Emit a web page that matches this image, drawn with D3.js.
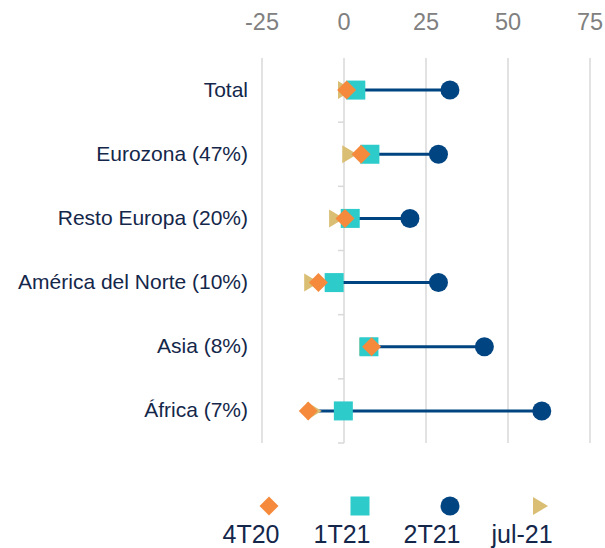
<!DOCTYPE html>
<html>
<head>
<meta charset="utf-8">
<script src="https://cdn.jsdelivr.net/npm/d3@7"></script>
<style>
    body { margin: 0; background: #fff; }
    svg { display: block; font-family: "Liberation Sans", Arial, sans-serif; }
</style>
</head>
<body>
<main></main>
<script>
// Data
const categories = ['Total', 'Eurozona (47%)', 'Resto Europa (20%)', 'América del Norte (10%)', 'Asia (8%)', 'África (7%)']
const series = ['4T20', '1T21', '2T21', 'jul-21']
const v4T20 = [0.8, 5.2, 0.3, -7.8, 8.4, -10.9]
const v1T21 = [3.6, 7.9, 1.9, -3.0, 7.6, -0.2]
const v2T21 = [32.3, 28.8, 20.1, 28.8, 42.8, 60.3]
const vJul21 = [0.3, 1.6, -2.4, -10.0, 6.8, -9.2]
const ticks = [-25, 0, 25, 50, 75]

// Configuration
const total_width = 605
const height = 548
const plot = { left: 262, right: 590, top: 58, bottom: 443 }
const colors = {
    '4T20': '#f68a3c',
    '1T21': '#2ecbcb',
    '2T21': '#004481',
    'jul-21': '#d9be73'
}
const textColor = '#14274a'
const gridColor = '#d9d9d9'

const x = d3.scaleLinear()
    .domain([-25, 75])
    .range([plot.left, plot.right])

const y = d3.scaleBand()
    .domain(categories)
    .range([plot.top, plot.bottom])

const yc = d => y(d) + y.bandwidth() / 2

// Markers
const marker = (selection, name) => {
    const c = colors[name]
    if (name === '4T20') {
        selection.append('path').attr('d', 'M0,-9.5L9.5,0L0,9.5L-9.5,0Z').attr('fill', c)
    } else if (name === '1T21') {
        selection.append('rect').attr('x', -9.5).attr('y', -9.5).attr('width', 19).attr('height', 19).attr('fill', c)
    } else if (name === '2T21') {
        selection.append('circle').attr('r', 9.5).attr('fill', c)
    } else {
        selection.append('path').attr('d', 'M-7,-9L8,0L-7,9Z').attr('fill', c)
    }
}

// DOM
const svg = d3.select('main')
    .append('svg')
    .attr('width', total_width)
    .attr('height', height)

// Grid
svg.append('g')
    .selectAll('line')
    .data(ticks)
    .enter()
    .append('line')
    .attr('x1', x)
    .attr('x2', x)
    .attr('y1', plot.top)
    .attr('y2', plot.bottom)
    .attr('stroke', gridColor)
    .attr('stroke-width', 1.5)

// Top axis labels
svg.append('g')
    .selectAll('text')
    .data(ticks)
    .enter()
    .append('text')
    .attr('x', x)
    .attr('y', 29.5)
    .attr('text-anchor', 'middle')
    .attr('font-size', 23.5)
    .attr('fill', '#808080')
    .text(d => d)

// Category axis ticks at x = 0
const bounds = categories.map(d => y(d) + y.bandwidth())
svg.append('g')
    .selectAll('line')
    .data(bounds)
    .enter()
    .append('line')
    .attr('x1', x(0) - 6)
    .attr('x2', x(0))
    .attr('y1', d => d)
    .attr('y2', d => d)
    .attr('stroke', gridColor)
    .attr('stroke-width', 1.5)

// Category labels
svg.append('g')
    .selectAll('text')
    .data(categories)
    .enter()
    .append('text')
    .attr('x', 248)
    .attr('y', d => yc(d) + 6.5)
    .attr('text-anchor', 'end')
    .attr('font-size', 21)
    .attr('fill', textColor)
    .text(d => d)

// Rows
const rows = categories.map((c, i) => ({
    cat: c,
    '4T20': v4T20[i],
    '1T21': v1T21[i],
    '2T21': v2T21[i],
    'jul-21': vJul21[i]
}))

svg.append('g')
    .selectAll('line')
    .data(rows)
    .enter()
    .append('line')
    .attr('x1', d => x(d3.min(series, s => d[s])))
    .attr('x2', d => x(d3.max(series, s => d[s])))
    .attr('y1', d => yc(d.cat))
    .attr('y2', d => yc(d.cat))
    .attr('stroke', colors['2T21'])
    .attr('stroke-width', 3)

// draw order: circle, triangle, square, diamond
const order = ['2T21', 'jul-21', '1T21', '4T20']
order.forEach(s => {
    rows.forEach(d => {
        svg.append('g')
            .attr('transform', `translate(${x(d[s])},${yc(d.cat)})`)
            .call(marker, s)
    })
})

// Legend
const legendX = [269, 360, 450, 540]
series.forEach((s, i) => {
    svg.append('g')
        .attr('transform', `translate(${legendX[i]},506)`)
        .call(marker, s)
    svg.append('text')
        .attr('x', legendX[i] - 18)
        .attr('y', 543)
        .attr('text-anchor', 'middle')
        .attr('font-size', 25)
        .attr('fill', textColor)
        .text(s)
})
</script>
</body>
</html>
